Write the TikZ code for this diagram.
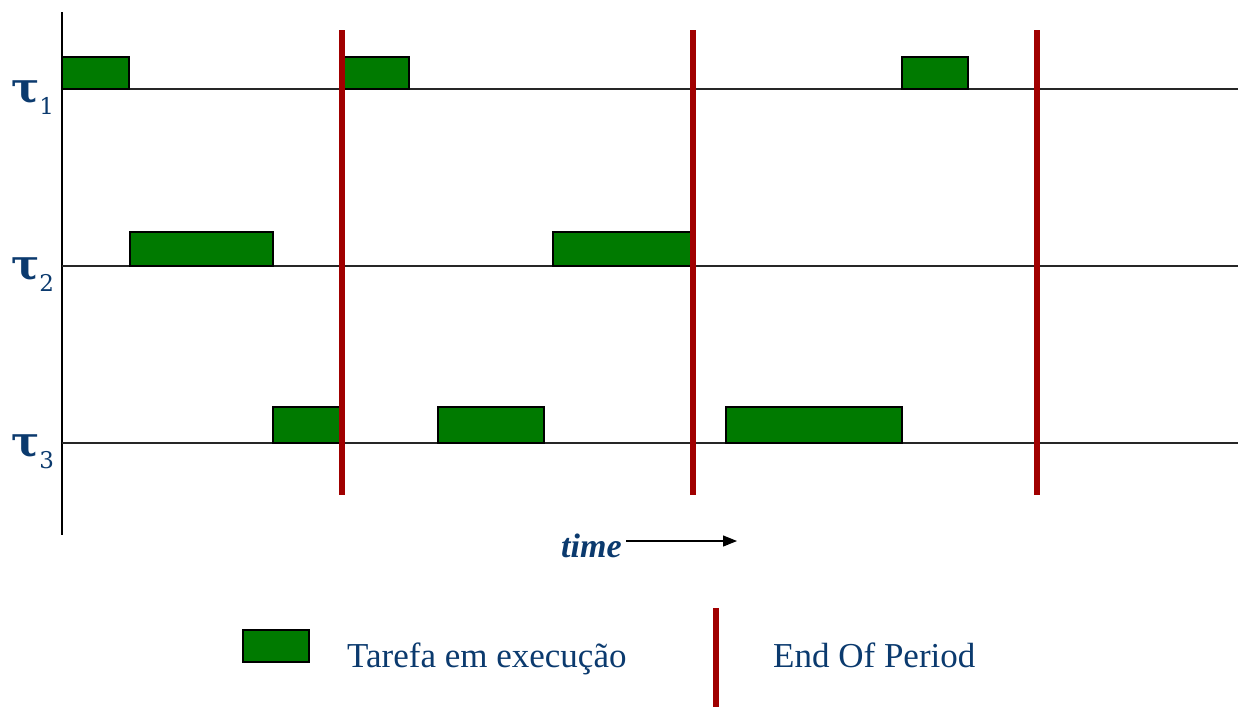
\documentclass[tikz,border=0pt]{standalone}
\usepackage{fontspec}
\setmainfont{Liberation Serif}
\newfontfamily\dvs{DejaVu Serif}
\usetikzlibrary{arrows.meta}
\definecolor{txtblue}{HTML}{0B3A6E}
\definecolor{runGreen}{HTML}{007A00}
\definecolor{perRed}{HTML}{A00000}
\tikzset{
  runbox/.style={draw=black, line width=1.4pt, fill=runGreen},
  tline/.style={draw=black!85, line width=1.1pt},
  periodline/.style={draw=perRed, line width=5.5pt},
  tasklabel/.style={text=txtblue, inner sep=0pt, anchor=base west},
  legendtxt/.style={text=txtblue, font=\fontsize{35}{40}\selectfont, inner sep=0pt, anchor=base west},
}
\newcommand{\taulab}[1]{{\dvs\bfseries\fontsize{42}{44}\selectfont τ}\raisebox{-12pt}{\dvs\fontsize{23}{25}\selectfont #1}}
\begin{document}
\begin{tikzpicture}[x=1pt,y=-1pt]
\useasboundingbox (0,0) rectangle (1238,707);
% axis
\draw[line width=1.4pt] (62,12) -- (62,535);
% task lines
\draw[tline] (62,89) -- (1238,89);
\draw[tline] (62,266) -- (1238,266);
\draw[tline] (62,443) -- (1238,443);
% tau labels
\node[tasklabel] (t1) at (11,102) {\taulab{1}};
\node[tasklabel] (t2) at (11,279) {\taulab{2}};
\node[tasklabel] (t3) at (11,456) {\taulab{3}};
% tau1 boxes
\draw[runbox] (62,57) rectangle (129,89);
\draw[runbox] (342,57) rectangle (409,89);
\draw[runbox] (902,57) rectangle (968,89);
% tau2 boxes
\draw[runbox] (130,232) rectangle (273,266);
\draw[runbox] (553,232) rectangle (693,266);
% tau3 boxes
\draw[runbox] (273,407) rectangle (342,443);
\draw[runbox] (438,407) rectangle (544,443);
\draw[runbox] (726,407) rectangle (902,443);
% period lines
\draw[periodline] (342,30) -- (342,495);
\draw[periodline] (693,30) -- (693,495);
\draw[periodline] (1037,30) -- (1037,495);
% time
\node[text=txtblue, font=\fontsize{34}{38}\selectfont\bfseries\itshape, inner sep=0pt, anchor=base west] (time) at (561,557) {time};
\coordinate (timeend) at (737,541);
\draw[line width=1.2pt, -{Triangle[length=14pt,width=11pt]}] (626,541) -- (timeend);
% legend
\draw[runbox] (243,630) rectangle (309,662);
\node[legendtxt] (lg1) at (347,667) {Tarefa em execução};
\draw[periodline] (716,608) -- (716,707);
\node[legendtxt] (lg2) at (773,667) {End Of Period};
\end{tikzpicture}
\end{document}
